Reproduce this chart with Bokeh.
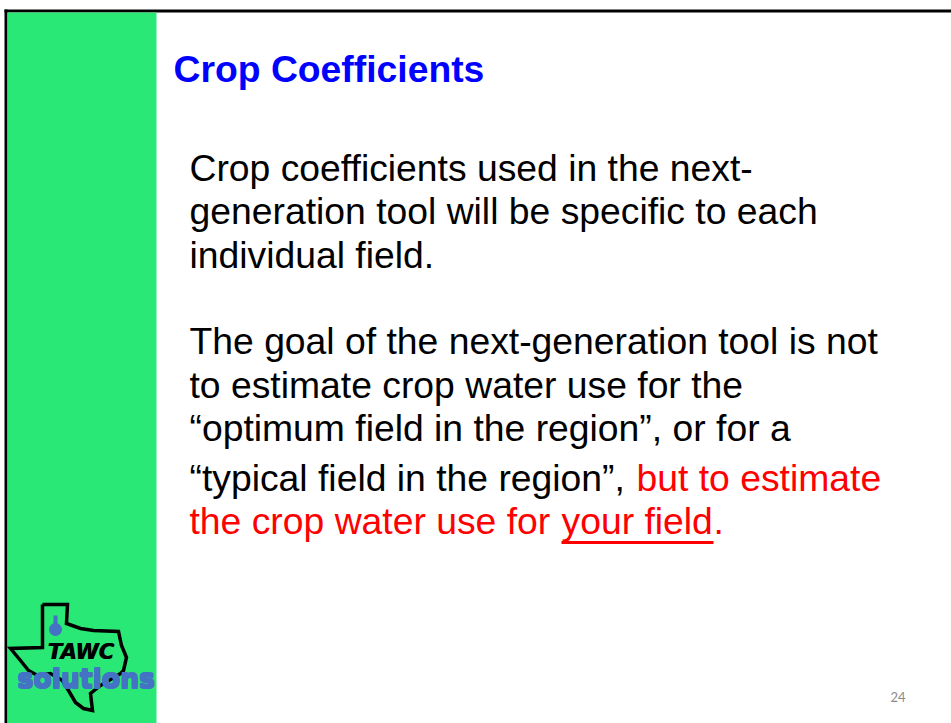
from bokeh.plotting import figure
from bokeh.models import Range1d
from bokeh.core.properties import value
from bokeh.embed import file_html
from bokeh.resources import INLINE

title = "Crop Coefficients"
para_lines = [
    ("Crop coefficients used in the next-", 189, 167, "black"),
    ("generation tool will be specific to each", 189, 210, "black"),
    ("individual field.", 189, 254, "black"),
    ("The goal of the next-generation tool is not", 189, 340, "black"),
    ("to estimate crop water use for the", 189, 384, "black"),
    ("\u201coptimum field in the region\u201d, or for a", 189, 427, "black"),
    ("\u201ctypical field in the region\u201d, ", 189, 477, "black"),
    ("but to estimate", 636, 477, "#ff0000"),
    ("the crop water use for ", 189, 520, "#ff0000"),
    ("your field", 561, 520, "#ff0000"),
    (".", 713, 520, "#ff0000"),
]
texas_x = [42, 67, 66, 80, 93, 118, 121, 126, 123, 120, 100, 90, 92, 83, 75, 68, 62, 50, 37, 28, 20, 10, 42, 42]
texas_y = [604, 604, 623, 628, 630, 631, 645, 657, 670, 673, 685, 693, 710, 708, 702, 690, 680, 673, 675, 670, 660, 648, 647, 604]

p = figure(width=951, height=723, output_backend="svg", toolbar_location=None,
           x_range=Range1d(0, 951), y_range=Range1d(723, 0), min_border=0)
p.axis.visible = False
p.grid.visible = False
p.outline_line_color = None
p.background_fill_color = "white"
p.border_fill_color = "white"

p.quad(left=[4], right=[951], top=[9], bottom=[12], fill_color="black", line_color=None)
p.quad(left=[4], right=[7], top=[9], bottom=[723], fill_color="black", line_color=None)
p.quad(left=[7], right=[156], top=[12], bottom=[723], fill_color="#2ae875", line_color=None)

p.text(x=[173], y=[68], text=[title], text_font=value("Liberation Sans"), text_font_style="bold",
       text_font_size="37.3px", text_color="#0000ff", text_baseline="alphabetic")
for t, x, y, c in para_lines:
    p.text(x=[x], y=[y], text=[t], text_font=value("Liberation Sans"), text_font_size="37.3px",
           text_color=c, text_baseline="alphabetic")
p.line(x=[561, 713], y=[542, 542], line_color="#ff0000", line_width=3)

p.line(x=texas_x, y=texas_y, line_color="black", line_width=3.5, line_join="miter")
p.ellipse(x=[55], y=[629], width=[13], height=[13], fill_color="#4472c4", line_color=None)
p.quad(left=[53], right=[57], top=[615], bottom=[626], fill_color="#4472c4", line_color=None)
for dx in (0, 0.7):
    p.text(x=[47 + dx], y=[651], text=["TAWC"], text_font=value("DejaVu Sans"),
           text_font_style="bold italic", text_font_size="21px", text_color="black",
           text_baseline="alphabetic")
for dx, dy in ((-0.7, -0.7), (0.7, -0.7), (-0.7, 0.7), (0.7, 0.7)):
    p.text(x=[17 + dx], y=[678 + dy], text=["solutions"], text_font=value("DejaVu Sans"),
           text_font_style="bold", text_font_size="26.7px", text_color="#4472c4",
           text_baseline="alphabetic")
p.text(x=[890], y=[696], text=["24"], text_font=value("Lato"), text_font_size="13px",
       text_color="#8b8b8b", text_baseline="alphabetic")

open("out.html", "w").write(file_html(p, INLINE))
